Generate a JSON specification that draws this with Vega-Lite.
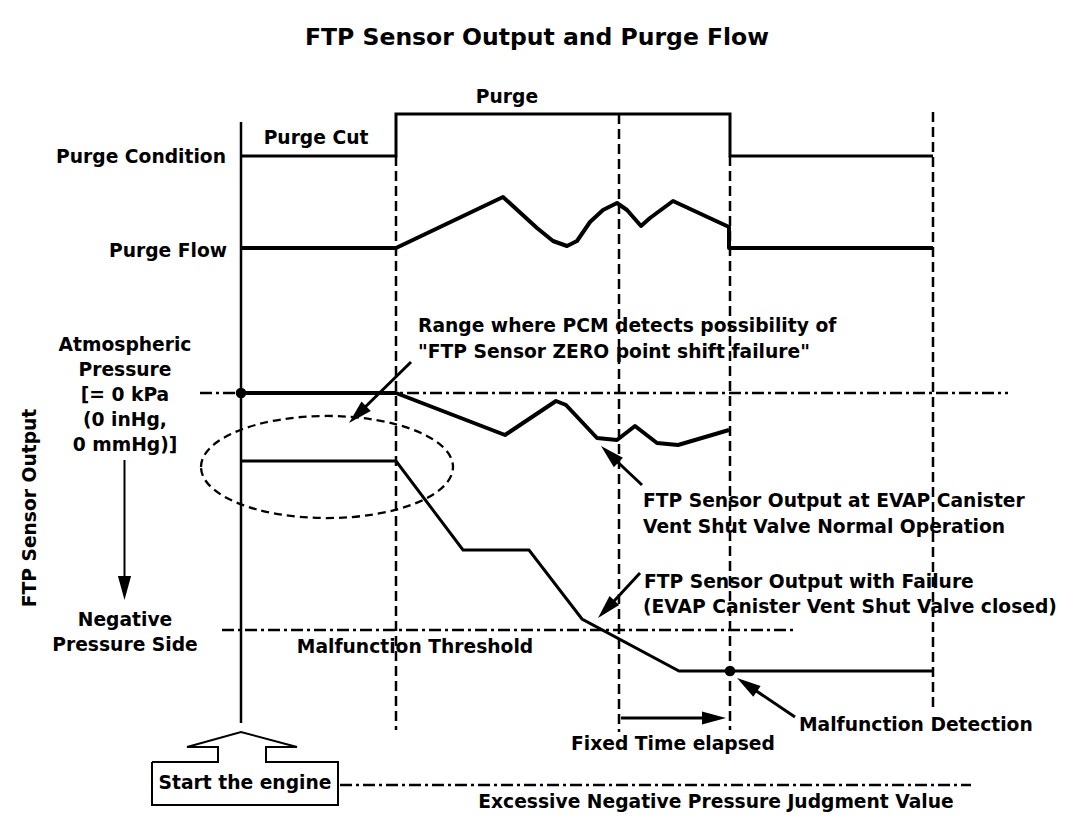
{
  "$schema": "https://vega.github.io/schema/vega-lite/v6.json",
  "width": 1088,
  "height": 840,
  "padding": 0,
  "autosize": {"type": "none"},
  "background": "white",
  "config": {"view": {"stroke": null}, "text": {"font": "DejaVu Sans", "fontWeight": "bold", "fontSize": 18.7, "color": "black", "baseline": "middle"}},
  "datasets": {
    "paths": [
      {"id": "axis", "o": 0, "x": 241, "y": 122}, {"id": "axis", "o": 1, "x": 241, "y": 723},
      {"id": "condition", "o": 0, "x": 241, "y": 156}, {"id": "condition", "o": 1, "x": 396, "y": 156}, {"id": "condition", "o": 2, "x": 396, "y": 114}, {"id": "condition", "o": 3, "x": 730, "y": 114}, {"id": "condition", "o": 4, "x": 730, "y": 156}, {"id": "condition", "o": 5, "x": 933, "y": 156},
      {"id": "flow", "o": 0, "x": 241, "y": 248}, {"id": "flow", "o": 1, "x": 396, "y": 248}, {"id": "flow", "o": 2, "x": 503, "y": 197}, {"id": "flow", "o": 3, "x": 537, "y": 228}, {"id": "flow", "o": 4, "x": 553, "y": 241}, {"id": "flow", "o": 5, "x": 567, "y": 246}, {"id": "flow", "o": 6, "x": 577, "y": 241}, {"id": "flow", "o": 7, "x": 590, "y": 222}, {"id": "flow", "o": 8, "x": 603, "y": 210}, {"id": "flow", "o": 9, "x": 617, "y": 203}, {"id": "flow", "o": 10, "x": 627, "y": 210}, {"id": "flow", "o": 11, "x": 641, "y": 226}, {"id": "flow", "o": 12, "x": 650, "y": 218}, {"id": "flow", "o": 13, "x": 673, "y": 201}, {"id": "flow", "o": 14, "x": 729, "y": 227}, {"id": "flow", "o": 15, "x": 729, "y": 248}, {"id": "flow", "o": 16, "x": 933, "y": 248},
      {"id": "normal", "o": 0, "x": 241, "y": 393}, {"id": "normal", "o": 1, "x": 396, "y": 393}, {"id": "normal", "o": 2, "x": 505, "y": 435}, {"id": "normal", "o": 3, "x": 556, "y": 401}, {"id": "normal", "o": 4, "x": 566, "y": 405}, {"id": "normal", "o": 5, "x": 597, "y": 438}, {"id": "normal", "o": 6, "x": 617, "y": 440}, {"id": "normal", "o": 7, "x": 635, "y": 426}, {"id": "normal", "o": 8, "x": 657, "y": 443}, {"id": "normal", "o": 9, "x": 678, "y": 445}, {"id": "normal", "o": 10, "x": 729, "y": 430},
      {"id": "failure", "o": 0, "x": 241, "y": 461}, {"id": "failure", "o": 1, "x": 396, "y": 461}, {"id": "failure", "o": 2, "x": 463, "y": 550}, {"id": "failure", "o": 3, "x": 529, "y": 550}, {"id": "failure", "o": 4, "x": 582, "y": 619}, {"id": "failure", "o": 5, "x": 679, "y": 671}, {"id": "failure", "o": 6, "x": 933, "y": 671},
      {"id": "p1", "o": 0, "x": 411, "y": 362}, {"id": "p1", "o": 1, "x": 355, "y": 417},
      {"id": "p2", "o": 0, "x": 642, "y": 485}, {"id": "p2", "o": 1, "x": 606, "y": 451},
      {"id": "p3", "o": 0, "x": 640, "y": 573}, {"id": "p3", "o": 1, "x": 603, "y": 613},
      {"id": "p4", "o": 0, "x": 795, "y": 717}, {"id": "p4", "o": 1, "x": 743, "y": 682},
      {"id": "p5", "o": 0, "x": 621, "y": 718}, {"id": "p5", "o": 1, "x": 718, "y": 718},
      {"id": "larrow", "o": 0, "x": 124.5, "y": 460}, {"id": "larrow", "o": 1, "x": 124.5, "y": 585},
      {"id": "box", "o": 0, "x": 152, "y": 762}, {"id": "box", "o": 1, "x": 218, "y": 762}, {"id": "box", "o": 2, "x": 218, "y": 747}, {"id": "box", "o": 3, "x": 187, "y": 747}, {"id": "box", "o": 4, "x": 241, "y": 732}, {"id": "box", "o": 5, "x": 297, "y": 747}, {"id": "box", "o": 6, "x": 266, "y": 747}, {"id": "box", "o": 7, "x": 266, "y": 762}, {"id": "box", "o": 8, "x": 338, "y": 762}, {"id": "box", "o": 9, "x": 338, "y": 805}, {"id": "box", "o": 10, "x": 152, "y": 805}, {"id": "box", "o": 11, "x": 152, "y": 762}
    ],
    "vdash": [
      {"x": 396, "y": 156, "y2": 730}, {"x": 619, "y": 114, "y2": 732}, {"x": 730, "y": 156, "y2": 730}, {"x": 933, "y": 112, "y2": 708}
    ],
    "hdash": [
      {"x": 200, "x2": 1008, "y": 393}, {"x": 222, "x2": 795, "y": 630}, {"x": 340, "x2": 971, "y": 785}
    ],
    "heads": [
      {"x": 349, "y": 423, "angle": 225.5}, {"x": 601, "y": 446, "angle": 313.6}, {"x": 598, "y": 618, "angle": 223}, {"x": 737, "y": 678, "angle": 303.9}, {"x": 726, "y": 718, "angle": 90}, {"x": 124.5, "y": 600, "angle": 180}
    ],
    "dots": [{"x": 241, "y": 393}, {"x": 730, "y": 671}],
    "ellipse": [{"x": 327, "y": 467}],
    "textC": [
      {"t": "Purge", "x": 507, "y": 97},
      {"t": "Purge Cut", "x": 316, "y": 138},
      {"t": "Atmospheric", "x": 125, "y": 345},
      {"t": "Pressure", "x": 125, "y": 370},
      {"t": "[= 0 kPa", "x": 125, "y": 395},
      {"t": "(0 inHg,", "x": 125, "y": 420},
      {"t": "0 mmHg)]", "x": 125, "y": 445},
      {"t": "Negative", "x": 125, "y": 620},
      {"t": "Pressure Side", "x": 125, "y": 645},
      {"t": "Malfunction Threshold", "x": 415, "y": 647},
      {"t": "Fixed Time elapsed", "x": 673, "y": 744},
      {"t": "Excessive Negative Pressure Judgment Value", "x": 716, "y": 802},
      {"t": "Start the engine", "x": 245, "y": 783}
    ],
    "textL": [
      {"t": "Range where PCM detects possibility of", "x": 418, "y": 326},
      {"t": "\"FTP Sensor ZERO point shift failure\"", "x": 418, "y": 352},
      {"t": "FTP Sensor Output at EVAP Canister", "x": 643, "y": 501},
      {"t": "Vent Shut Valve Normal Operation", "x": 643, "y": 527},
      {"t": "FTP Sensor Output with Failure", "x": 644, "y": 582},
      {"t": "(EVAP Canister Vent Shut Valve closed)", "x": 643, "y": 607},
      {"t": "Malfunction Detection", "x": 799, "y": 725}
    ],
    "textR": [
      {"t": "Purge Condition", "x": 226, "y": 157},
      {"t": "Purge Flow", "x": 227, "y": 251}
    ],
    "title": [{"t": "FTP Sensor Output and Purge Flow", "x": 537, "y": 37.5}],
    "ylabel": [{"t": "FTP Sensor Output", "x": 30, "y": 508}]
  },
  "encoding": {
    "x": {"field": "x", "type": "quantitative", "scale": {"domain": [0, 1088], "nice": false, "zero": false}, "axis": null},
    "y": {"field": "y", "type": "quantitative", "scale": {"domain": [0, 840], "nice": false, "zero": false, "reverse": true}, "axis": null}
  },
  "layer": [
    {
      "data": {"name": "vdash"},
      "mark": {"type": "rule", "color": "black", "strokeWidth": 2.5, "strokeDash": [10, 5]},
      "encoding": {"y2": {"field": "y2"}}
    },
    {
      "data": {"name": "hdash"},
      "mark": {"type": "rule", "color": "black", "strokeWidth": 2.3, "strokeDash": [12, 4, 3, 4]},
      "encoding": {"x2": {"field": "x2"}}
    },
    {
      "data": {"name": "paths"},
      "transform": [{"filter": {"field": "id", "oneOf": ["axis"]}}],
      "mark": {"type": "line", "color": "black", "strokeWidth": 2.5},
      "encoding": {"detail": {"field": "id"}, "order": {"field": "o", "type": "quantitative"}}
    },
    {
      "data": {"name": "paths"},
      "transform": [{"filter": {"field": "id", "oneOf": ["condition", "failure", "p1", "p2", "p3", "p4", "p5"]}}],
      "mark": {"type": "line", "color": "black", "strokeWidth": 3, "strokeJoin": "miter"},
      "encoding": {"detail": {"field": "id"}, "order": {"field": "o", "type": "quantitative"}}
    },
    {
      "data": {"name": "paths"},
      "transform": [{"filter": {"field": "id", "oneOf": ["flow", "normal"]}}],
      "mark": {"type": "line", "color": "black", "strokeWidth": 4, "strokeJoin": "round"},
      "encoding": {"detail": {"field": "id"}, "order": {"field": "o", "type": "quantitative"}}
    },
    {
      "data": {"name": "paths"},
      "transform": [{"filter": {"field": "id", "oneOf": ["larrow", "box"]}}],
      "mark": {"type": "line", "color": "black", "strokeWidth": 2, "strokeJoin": "miter"},
      "encoding": {"detail": {"field": "id"}, "order": {"field": "o", "type": "quantitative"}}
    },
    {
      "data": {"name": "ellipse"},
      "mark": {"type": "point", "shape": "M-1,0C-1,-0.2237 -0.5523,-0.405 0,-0.405C0.5523,-0.405 1,-0.2237 1,0C1,0.2237 0.5523,0.405 0,0.405C-0.5523,0.405 -1,0.2237 -1,0Z", "filled": false, "stroke": "black", "strokeWidth": 2.3, "strokeDash": [8, 5], "size": 63504, "opacity": 1}
    },
    {
      "data": {"name": "heads"},
      "mark": {"type": "point", "shape": "M0,0L-0.55,2L0.55,2Z", "filled": true, "color": "black", "size": 576, "opacity": 1},
      "encoding": {"angle": {"field": "angle", "type": "quantitative", "scale": null}}
    },
    {
      "data": {"name": "dots"},
      "mark": {"type": "point", "shape": "circle", "filled": true, "color": "black", "size": 113, "opacity": 1}
    },
    {
      "data": {"name": "textC"},
      "mark": {"type": "text", "align": "center"},
      "encoding": {"text": {"field": "t"}}
    },
    {
      "data": {"name": "textL"},
      "mark": {"type": "text", "align": "left"},
      "encoding": {"text": {"field": "t"}}
    },
    {
      "data": {"name": "textR"},
      "mark": {"type": "text", "align": "right"},
      "encoding": {"text": {"field": "t"}}
    },
    {
      "data": {"name": "title"},
      "mark": {"type": "text", "align": "center", "fontSize": 23.5},
      "encoding": {"text": {"field": "t"}}
    },
    {
      "data": {"name": "ylabel"},
      "mark": {"type": "text", "align": "center", "angle": 270},
      "encoding": {"text": {"field": "t"}}
    }
  ]
}
